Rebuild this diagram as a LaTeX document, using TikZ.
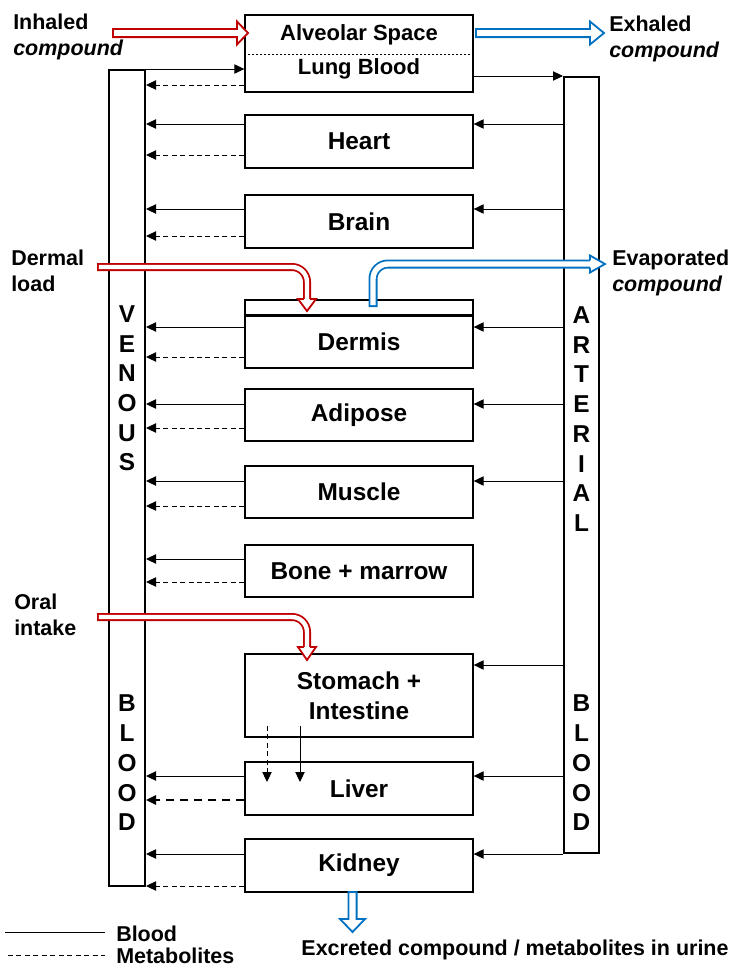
\documentclass[tikz,border=0pt]{standalone}
\usepackage{fontspec}
\setmainfont{Liberation Sans}
\usetikzlibrary{arrows.meta}
\definecolor{myred}{HTML}{C00000}
\definecolor{myblue}{HTML}{0070C0}
\begin{document}
\begin{tikzpicture}[x=0.75pt,y=-0.75pt,
  font=\fontsize{16.1}{19.5}\selectfont\bfseries,
  organ/.style={draw, line width=1pt, minimum width=171pt, inner sep=0pt, font=\fontsize{18.3}{22.5}\selectfont\bfseries},
  column/.style={draw, line width=1.5pt, inner sep=0pt},
  colletter/.style={inner sep=0pt, font=\fontsize{18.3}{22}\selectfont\bfseries},
  txt/.style={inner sep=0pt},
  lbl/.style={inner sep=0pt, align=left, anchor=west},
  sol/.style={draw, line width=0.75pt, -{Triangle[length=7.5pt,width=7pt]}},
  dsh/.style={sol, dash pattern=on 3.75pt off 2.6pt},
  thickdsh/.style={sol, line width=1.5pt, dash pattern=on 6.5pt off 4pt},
  hollowred/.style={fill=white, draw=myred, line width=1.35pt, line join=miter},
  hollowblue/.style={fill=white, draw=myblue, line width=1.35pt, line join=miter}
]
\useasboundingbox (0,0) rectangle (734,968);

% columns
\node[column, minimum width=27pt, minimum height=612pt] (ven) at (127,478) {};
\node[column, minimum width=26.25pt, minimum height=582pt] (art) at (581.5,465) {};

% column letters
\foreach \l/\yy [count=\i] in {V/314,E/344,N/373,O/403,U/433,S/462}
  \node[colletter] (vl\i) at (127,\yy) {\l};
\foreach \l/\yy [count=\i] in {B/703,L/733,O/763,O/793,D/822}
  \node[colletter] (vb\i) at (127,\yy) {\l};
\foreach \l/\yy [count=\i] in {A/315,R/345,T/374,E/404,R/434,I/464,A/493,L/523}
  \node[colletter] (al\i) at (581.5,\yy) {\l};
\foreach \l/\yy [count=\i] in {B/703,L/733,O/763,O/793,D/822}
  \node[colletter] (ab\i) at (581.5,\yy) {\l};

% organ boxes
\node[organ, minimum height=57.75pt] (lung) at (359,53.5) {};
\draw[line width=0.5pt, dash pattern=on 1.5pt off 1.5pt] (lung.west |- 0,54) -- (lung.east |- 0,54);
\node[txt, font=\fontsize{16.5}{20}\selectfont\bfseries] (alv) at (359,35) {Alveolar Space};
\node[txt, font=\fontsize{16.5}{20}\selectfont\bfseries] (lb) at (359,69) {Lung Blood};
\node[organ, minimum height=39.75pt] (heart) at (359,141.5) {Heart};
\node[organ, minimum height=39.75pt] (brain) at (359,221.5) {Brain};
\node[organ, minimum height=12pt] (dermtop) at (359,308) {};
\node[organ, minimum height=39pt] (dermis) at (359,342) {Dermis};
\draw[line width=1.5pt] (dermis.north west) -- (dermis.north east);
\node[organ, minimum height=39pt] (adipose) at (359,415) {Adipose};
\node[organ, minimum height=39pt] (muscle) at (359,492) {Muscle};
\node[organ, minimum height=39pt] (bone) at (359,571) {Bone + marrow};
\node[organ, minimum height=62.25pt, align=center] (stomach) at (359,695.5) {Stomach +\\Intestine};
\node[organ, minimum height=39.75pt] (liver) at (359,788.5) {Liver};
\node[organ, minimum height=39.75pt] (kidney) at (359,865.5) {Kidney};

% lung connections
\draw[sol] (ven.north east) -- (lung.west |- ven.north east);
\draw[dsh] (lung.west |- 0,85) -- (ven.east |- 0,85);
\draw[sol] (lung.east |- art.north west) -- (art.north west);

% venous returns (solid blood, dashed metabolites)
\foreach \o/\a/\b in {heart/124/155, brain/209/236, dermis/327/357, adipose/404/428, muscle/481/506, bone/559/582, kidney/854/886}{
  \draw[sol] (\o.west |- 0,\a) -- (ven.east |- 0,\a);
  \draw[dsh] (\o.west |- 0,\b) -- (ven.east |- 0,\b);
}
\draw[sol] (liver.west |- 0,776) -- (ven.east |- 0,776);
\draw[thickdsh] (liver.west |- 0,800) -- (ven.east |- 0,800);

% arterial supply
\foreach \o/\a in {heart/124, brain/209, dermis/327, adipose/404, muscle/481, stomach/665, liver/776, kidney/854}{
  \draw[sol] (art.west |- 0,\a) -- (\o.east |- 0,\a);
}

% stomach -> liver
\coordinate (sd0) at (267,726);
\coordinate (sd1) at (267,782);
\coordinate (ss0) at (300,726);
\coordinate (ss1) at (300,782);
\draw[dsh] (sd0) -- (sd1);
\draw[sol] (ss0) -- (ss1);

% inhaled (red hollow arrow)
\filldraw[hollowred] (113,28.9) -- (237,28.9) -- (237,21.5) -- (248,33) -- (237,44.5) -- (237,37.1) -- (113,37.1) -- cycle;
% exhaled (blue hollow arrow)
\filldraw[hollowblue] (476,28.9) -- (590,28.9) -- (590,21.5) -- (604,33) -- (590,44.5) -- (590,37.1) -- (476,37.1) -- cycle;

% dermal load
\draw[myred, line width=6pt, rounded corners=11.25pt] (97,267) -- (307,267) -- (307,299);
\draw[white, line width=3.3pt, rounded corners=11.25pt] (98.8,267) -- (307,267) -- (307,299.5);
\filldraw[hollowred] (303.9,299) -- (298,299) -- (307,311) -- (316,299) -- (310.1,299);

% oral intake
\draw[myred, line width=6pt, rounded corners=11.25pt] (97,617) -- (307,617) -- (307,647);
\draw[white, line width=3.3pt, rounded corners=11.25pt] (98.8,617) -- (307,617) -- (307,647.5);
\filldraw[hollowred] (303.9,647) -- (298,647) -- (307,660) -- (316,647) -- (310.1,647);

% evaporated
\draw[myblue, line width=6.75pt, rounded corners=11.25pt] (373,307) -- (373,264) -- (590,264);
\draw[white, line width=4.05pt, rounded corners=11.25pt] (373,305.2) -- (373,264) -- (590.5,264);
\filldraw[hollowblue] (590,260.4) -- (590,255.5) -- (605,264) -- (590,272.5) -- (590,267.6);

% excreted
\filldraw[hollowblue] (348.4,892) -- (348.4,919) -- (340,919) -- (352.5,932) -- (365,919) -- (356.6,919) -- (356.6,892) -- cycle;

% labels
\node[lbl] (inh) at (13,37) {Inhaled\\\textit{compound}};
\node[lbl] (exh) at (609,38.5) {Exhaled\\\textit{compound}};
\node[lbl] (derm) at (11,271) {Dermal\\load};
\node[lbl] (evap) at (612,273) {Evaporated\\\textit{compound}};
\node[lbl] (oral) at (14,615) {Oral\\intake};
\node[txt] (excr) at (515,950) {Excreted compound / metabolites in urine};

% legend
\coordinate (lg1a) at (5,932);
\coordinate (lg1b) at (105,932);
\coordinate (lg2a) at (8,955);
\coordinate (lg2b) at (105,955);
\draw[line width=0.75pt] (lg1a) -- (lg1b);
\draw[line width=0.75pt, dash pattern=on 3.75pt off 2.6pt] (lg2a) -- (lg2b);
\node[lbl] (lgb) at (116,934) {Blood};
\node[lbl] (lgm) at (116,956) {Metabolites};
\end{tikzpicture}
\end{document}
